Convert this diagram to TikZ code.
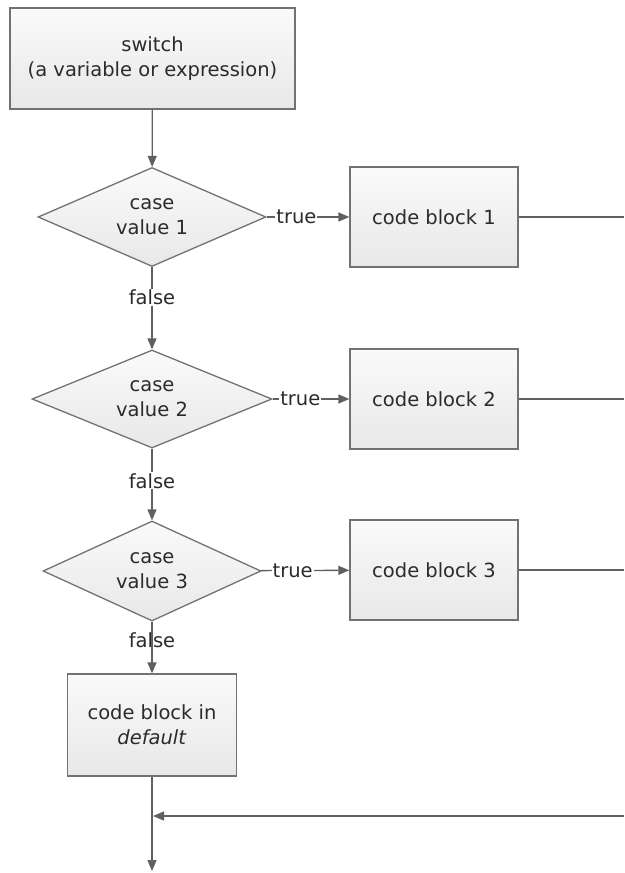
\documentclass[tikz,border=0pt]{standalone}
\usepackage{fontspec}
\setmainfont{DejaVu Sans}
\usetikzlibrary{shapes.geometric,arrows.meta}
\definecolor{boxtop}{HTML}{FAFAFA}
\definecolor{boxbot}{HTML}{E8E8E8}
\definecolor{edge}{HTML}{727272}
\definecolor{wire}{HTML}{606060}
\definecolor{ink}{HTML}{2B2B2B}
\tikzset{
  block/.style={draw=edge, line width=1.3pt, top color=boxtop, bottom color=boxbot,
    minimum width=168pt, minimum height=100pt, inner sep=0pt, align=center, text=ink},
  test/.style={diamond, aspect=2.3, draw=edge, line width=1.3pt, top color=boxtop,
    bottom color=boxbot, minimum height=99pt, inner sep=0pt, align=center, text=ink},
  wire/.style={draw=wire, line width=1.3pt},
  flow/.style={wire, -{Triangle[length=11pt,width=9pt]}},
  tag/.style={text=ink, fill=white, inner sep=1pt},
}
\begin{document}
\begin{tikzpicture}[x=1pt, y=-1pt, font=\fontsize{19.5}{25}\selectfont]
\useasboundingbox (0,0) rectangle (624,873);
% the switch and its tests
\node[block, minimum width=285pt, minimum height=101pt] (switch) at (152.5,58.5) {switch\\(a variable or expression)};
\node[test, minimum width=228pt] (case1) at (152,217) {case\\value 1};
\node[test, minimum width=240pt, minimum height=98pt] (case2) at (152,399) {case\\value 2};
\node[test, minimum width=218pt, minimum height=100pt] (case3) at (152,571) {case\\value 3};
% code blocks
\node[block] (code1) at (434,217) {code block 1};
\node[block] (code2) at (434,399) {code block 2};
\node[block] (code3) at (434,570) {code block 3};
\node[block, minimum width=169pt, minimum height=102pt] (default) at (152,725) {code block in\\\textit{default}};
% loose ends at the border
\coordinate (out1) at (624,217);
\coordinate (out2) at (624,399);
\coordinate (out3) at (624,570);
\coordinate (back) at (624,816);
\coordinate (join) at (152,816);
\coordinate (exit) at (152,871);
% connectors
\draw[flow] (switch) -- (case1);
\draw[flow] (case1) -- node[tag, pos=0.37] {false} (case2);
\draw[flow] (case2) -- node[tag, pos=0.45] {false} (case3);
\node[text=ink] (false3) at (152,640) {false};
\draw[flow] (case3) -- (default);
\draw[flow] (case1) -- node[tag, pos=0.36] {true} (code1);
\draw[flow] (case2) -- node[tag, pos=0.36] {true} (code2);
\draw[flow] (case3) -- node[tag, pos=0.36] {true} (code3);
\draw[wire] (code1) -- (out1);
\draw[wire] (code2) -- (out2);
\draw[wire] (code3) -- (out3);
\draw[flow] (default) -- (exit);
\draw[flow, shorten >=1pt] (back) -- (join);
\end{tikzpicture}
\end{document}
